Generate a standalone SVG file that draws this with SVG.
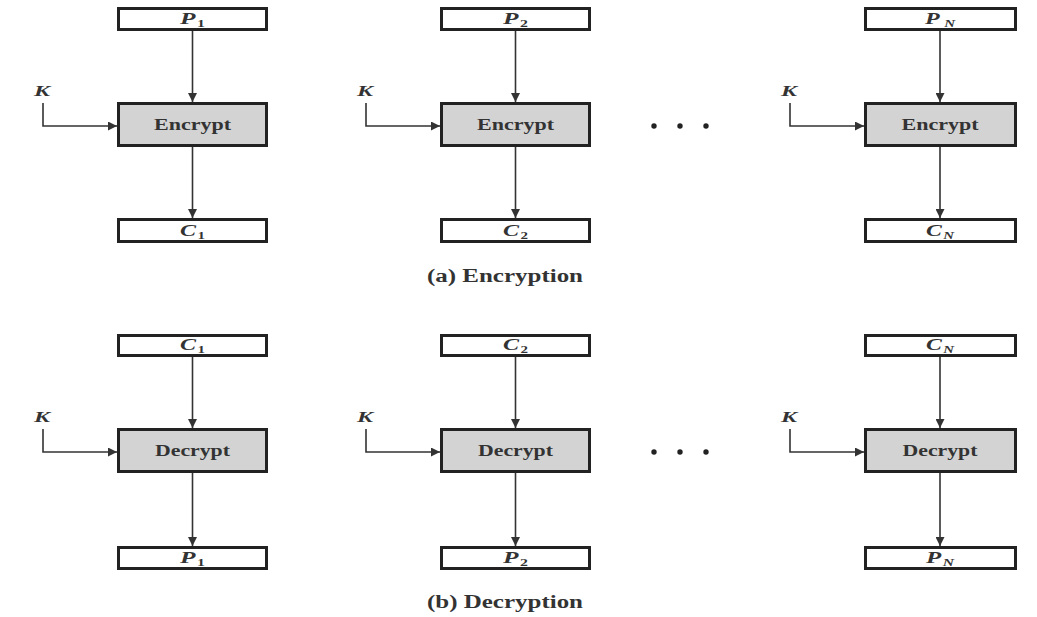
<svg xmlns="http://www.w3.org/2000/svg" width="1037" height="617" viewBox="0 0 1037 617">
<defs>
<marker id="ah" viewBox="0 0 10 10" refX="10" refY="5" markerWidth="10" markerHeight="9" markerUnits="userSpaceOnUse" orient="auto">
<path d="M0,0 L10,5 L0,10 Z" fill="#333"/>
</marker>
<style>
.io{fill:#fff;stroke:#222;stroke-width:3}
.op{fill:#d3d3d3;stroke:#222;stroke-width:3}
.ln{fill:none;stroke:#333;stroke-width:1.6;marker-end:url(#ah)}
.t{font-family:"Liberation Serif","Times New Roman",serif;font-weight:bold;fill:#333;font-size:16px;text-anchor:middle}
.v{font-style:italic}
.s{font-size:10px}
.k{font-family:"Liberation Serif","Times New Roman",serif;font-weight:bold;font-style:italic;fill:#333;font-size:15px}
.cap{font-family:"Liberation Serif","Times New Roman",serif;font-weight:bold;fill:#333;font-size:18px;text-anchor:middle}
.dot{fill:#222}
</style>
</defs>
<rect width="1037" height="617" fill="#fff"/>

<g id="connectors">
<line class="ln" x1="192.5" y1="31" x2="192.5" y2="102"/>
<line class="ln" x1="192.5" y1="147" x2="192.5" y2="218"/>
<path class="ln" d="M43,103 V126 H117"/>
<line class="ln" x1="515.5" y1="31" x2="515.5" y2="102"/>
<line class="ln" x1="515.5" y1="147" x2="515.5" y2="218"/>
<path class="ln" d="M366,103 V126 H440"/>
<line class="ln" x1="940" y1="31" x2="940" y2="102"/>
<line class="ln" x1="940" y1="147" x2="940" y2="218"/>
<path class="ln" d="M790,103 V126 H864"/>
<line class="ln" x1="192.5" y1="357" x2="192.5" y2="428"/>
<line class="ln" x1="192.5" y1="473" x2="192.5" y2="546"/>
<path class="ln" d="M43,429 V452 H117"/>
<line class="ln" x1="515.5" y1="357" x2="515.5" y2="428"/>
<line class="ln" x1="515.5" y1="473" x2="515.5" y2="546"/>
<path class="ln" d="M366,429 V452 H440"/>
<line class="ln" x1="940" y1="357" x2="940" y2="428"/>
<line class="ln" x1="940" y1="473" x2="940" y2="546"/>
<path class="ln" d="M790,429 V452 H864"/>
</g>

<g id="enc-p1"><rect class="io" x="118.5" y="8.5" width="148" height="21"/><text class="t" x="192.5" y="24" textLength="25" lengthAdjust="spacingAndGlyphs"><tspan class="v">P</tspan><tspan class="s" dx="1" dy="3">1</tspan></text></g>
<g id="enc-k1"><text class="k" x="34" y="96" textLength="16" lengthAdjust="spacingAndGlyphs">K</text></g>
<g id="enc-e1"><rect class="op" x="118.5" y="103.5" width="148" height="42"/><text class="t" x="192.5" y="130" textLength="77" lengthAdjust="spacingAndGlyphs">Encrypt</text></g>
<g id="enc-c1"><rect class="io" x="118.5" y="219.5" width="148" height="22"/><text class="t" x="192.5" y="236" textLength="25" lengthAdjust="spacingAndGlyphs"><tspan class="v">C</tspan><tspan class="s" dx="1" dy="3">1</tspan></text></g>

<g id="enc-p2"><rect class="io" x="441.5" y="8.5" width="148" height="21"/><text class="t" x="515.5" y="24" textLength="25" lengthAdjust="spacingAndGlyphs"><tspan class="v">P</tspan><tspan class="s" dx="1" dy="3">2</tspan></text></g>
<g id="enc-k2"><text class="k" x="357" y="96" textLength="16" lengthAdjust="spacingAndGlyphs">K</text></g>
<g id="enc-e2"><rect class="op" x="441.5" y="103.5" width="148" height="42"/><text class="t" x="515.5" y="130" textLength="77" lengthAdjust="spacingAndGlyphs">Encrypt</text></g>
<g id="enc-c2"><rect class="io" x="441.5" y="219.5" width="148" height="22"/><text class="t" x="515.5" y="236" textLength="25" lengthAdjust="spacingAndGlyphs"><tspan class="v">C</tspan><tspan class="s" dx="1" dy="3">2</tspan></text></g>

<g id="enc-dots"><circle class="dot" cx="654" cy="126" r="2.7"/><circle class="dot" cx="680" cy="126" r="2.7"/><circle class="dot" cx="706" cy="126" r="2.7"/></g>

<g id="enc-pn"><rect class="io" x="865.5" y="8.5" width="150" height="21"/><text class="t" x="940" y="24" textLength="30" lengthAdjust="spacingAndGlyphs"><tspan class="v">P</tspan><tspan class="s v" dx="3" dy="3">N</tspan></text></g>
<g id="enc-kn"><text class="k" x="781" y="96" textLength="16" lengthAdjust="spacingAndGlyphs">K</text></g>
<g id="enc-en"><rect class="op" x="865.5" y="103.5" width="150" height="42"/><text class="t" x="940" y="130" textLength="77" lengthAdjust="spacingAndGlyphs">Encrypt</text></g>
<g id="enc-cn"><rect class="io" x="865.5" y="219.5" width="150" height="22"/><text class="t" x="940" y="236" textLength="28" lengthAdjust="spacingAndGlyphs"><tspan class="v">C</tspan><tspan class="s v" dx="1" dy="3">N</tspan></text></g>

<g id="cap-a"><text class="cap" x="505" y="282" textLength="156" lengthAdjust="spacingAndGlyphs">(a) Encryption</text></g>

<g id="dec-c1"><rect class="io" x="118.5" y="335.5" width="148" height="20"/><text class="t" x="192.5" y="350" textLength="25" lengthAdjust="spacingAndGlyphs"><tspan class="v">C</tspan><tspan class="s" dx="1" dy="3">1</tspan></text></g>
<g id="dec-k1"><text class="k" x="34" y="422" textLength="16" lengthAdjust="spacingAndGlyphs">K</text></g>
<g id="dec-d1"><rect class="op" x="118.5" y="429.5" width="148" height="42"/><text class="t" x="192.5" y="456" textLength="75" lengthAdjust="spacingAndGlyphs">Decrypt</text></g>
<g id="dec-p1"><rect class="io" x="118.5" y="547.5" width="148" height="21"/><text class="t" x="192.5" y="563" textLength="25" lengthAdjust="spacingAndGlyphs"><tspan class="v">P</tspan><tspan class="s" dx="1" dy="3">1</tspan></text></g>

<g id="dec-c2"><rect class="io" x="441.5" y="335.5" width="148" height="20"/><text class="t" x="515.5" y="350" textLength="25" lengthAdjust="spacingAndGlyphs"><tspan class="v">C</tspan><tspan class="s" dx="1" dy="3">2</tspan></text></g>
<g id="dec-k2"><text class="k" x="357" y="422" textLength="16" lengthAdjust="spacingAndGlyphs">K</text></g>
<g id="dec-d2"><rect class="op" x="441.5" y="429.5" width="148" height="42"/><text class="t" x="515.5" y="456" textLength="75" lengthAdjust="spacingAndGlyphs">Decrypt</text></g>
<g id="dec-p2"><rect class="io" x="441.5" y="547.5" width="148" height="21"/><text class="t" x="515.5" y="563" textLength="25" lengthAdjust="spacingAndGlyphs"><tspan class="v">P</tspan><tspan class="s" dx="1" dy="3">2</tspan></text></g>

<g id="dec-dots"><circle class="dot" cx="654" cy="452" r="2.7"/><circle class="dot" cx="680" cy="452" r="2.7"/><circle class="dot" cx="706" cy="452" r="2.7"/></g>

<g id="dec-cn"><rect class="io" x="865.5" y="335.5" width="150" height="20"/><text class="t" x="940" y="350" textLength="28" lengthAdjust="spacingAndGlyphs"><tspan class="v">C</tspan><tspan class="s v" dx="1" dy="3">N</tspan></text></g>
<g id="dec-kn"><text class="k" x="781" y="422" textLength="16" lengthAdjust="spacingAndGlyphs">K</text></g>
<g id="dec-dn"><rect class="op" x="865.5" y="429.5" width="150" height="42"/><text class="t" x="940" y="456" textLength="75" lengthAdjust="spacingAndGlyphs">Decrypt</text></g>
<g id="dec-pn"><rect class="io" x="865.5" y="547.5" width="150" height="21"/><text class="t" x="940" y="563" textLength="28" lengthAdjust="spacingAndGlyphs"><tspan class="v">P</tspan><tspan class="s v" dx="1" dy="3">N</tspan></text></g>

<g id="cap-b"><text class="cap" x="505" y="608" textLength="156" lengthAdjust="spacingAndGlyphs">(b) Decryption</text></g>
</svg>
